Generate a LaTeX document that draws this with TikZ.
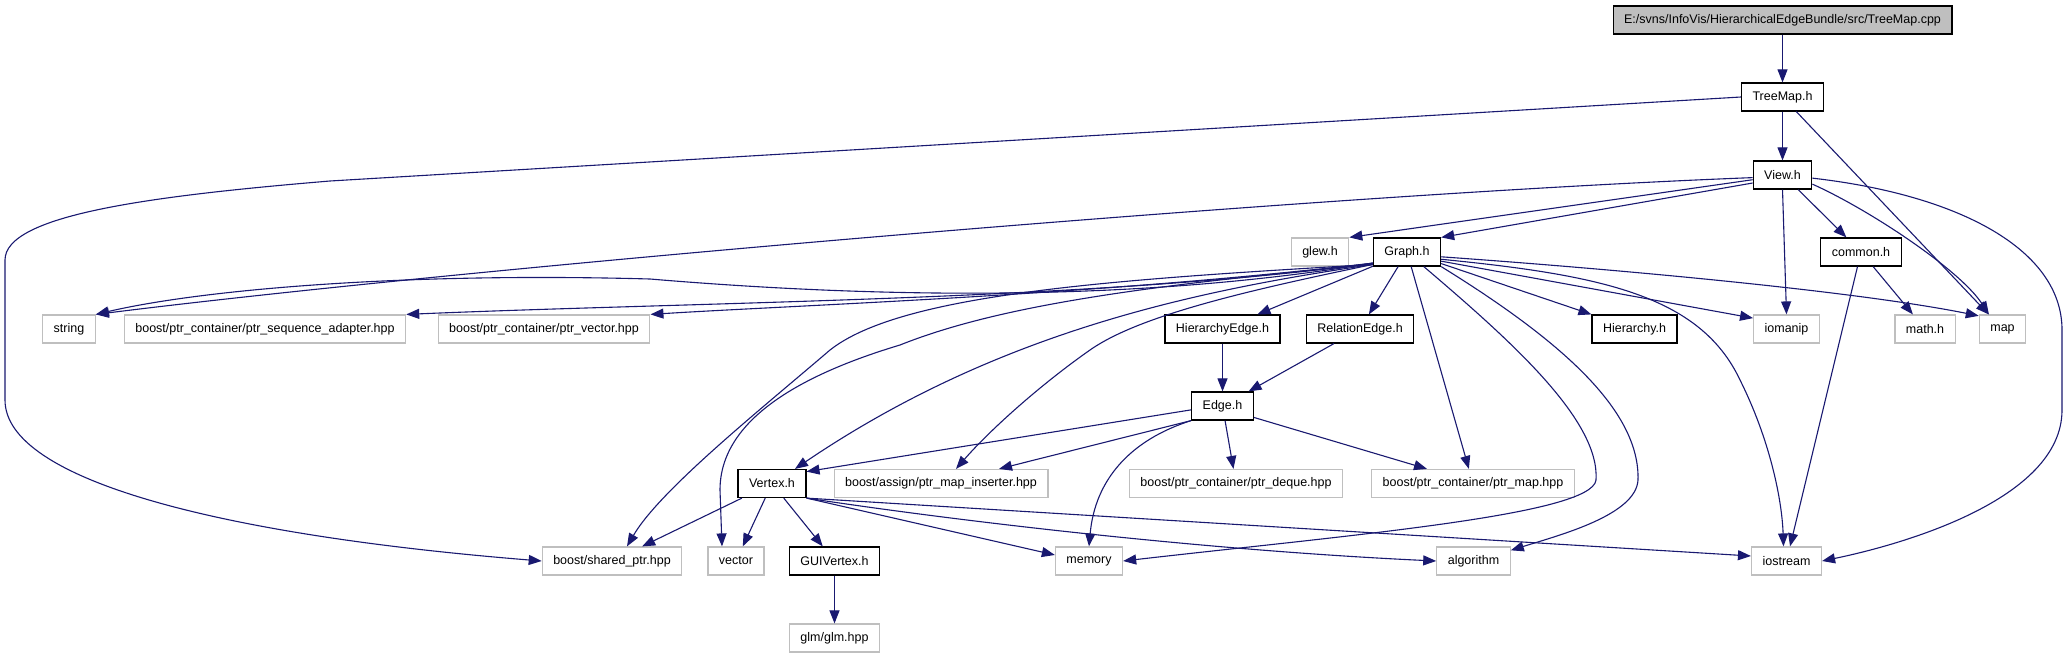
\documentclass[tikz,border=0pt]{standalone}
\usepackage{fontspec}
\setmainfont{Liberation Sans}
\usepackage{tikz}
\usetikzlibrary{arrows.meta}
\definecolor{midnight}{HTML}{191970}
\definecolor{lgray}{HTML}{BFBFBF}

\begin{document}
\begin{tikzpicture}[x=1pt,y=-1pt,>={Triangle[length=13pt,width=10pt]},
	hdr/.style = {draw=black,line width=1.2pt,fill=white,minimum height=28pt,inner xsep=11pt,inner ysep=0pt,font=\fontsize{12.5}{15}\selectfont},
	sys/.style = {hdr,draw=lgray},
	src/.style = {hdr,fill=lgray},
	inc/.style = {->,draw=midnight,line width=1.1pt}
	]
	\useasboundingbox (0,0) rectangle (2068,659);
	%FILE
	\node[src] (cpp) at (1782.5,20) {E:/svns/InfoVis/HierarchicalEdgeBundle/src/TreeMap.cpp};
	\node[hdr] (treemap) at (1782.5,97) {TreeMap.h};
	\node[hdr] (view) at (1782.5,175) {View.h};
	\node[sys] (glew) at (1320,252) {glew.h};
	\node[hdr] (graph) at (1407,252) {Graph.h};
	\node[hdr] (common) at (1861,252) {common.h};
	\node[sys] (string) at (69,329) {string};
	\node[sys] (ptrseq) at (265,329) {boost/ptr\_container/ptr\_sequence\_adapter.hpp};
	\node[sys] (ptrvec) at (544,329) {boost/ptr\_container/ptr\_vector.hpp};
	\node[hdr] (hedge) at (1222.5,329) {HierarchyEdge.h};
	\node[hdr] (redge) at (1360,329) {RelationEdge.h};
	\node[hdr] (hier) at (1634.5,329) {Hierarchy.h};
	\node[sys] (iomanip) at (1786.5,329) {iomanip};
	\node[sys] (mathh) at (1925,329) {math.h};
	\node[sys] (map) at (2002.5,329) {map};
	\node[hdr] (edge) at (1222.5,406) {Edge.h};
	\node[hdr] (vertex) at (772,483.5) {Vertex.h};
	\node[sys] (ptrins) at (941,483.5) {boost/assign/ptr\_map\_inserter.hpp};
	\node[sys] (ptrdeq) at (1236,483.5) {boost/ptr\_container/ptr\_deque.hpp};
	\node[sys] (ptrmap) at (1473,483.5) {boost/ptr\_container/ptr\_map.hpp};
	\node[sys] (shptr) at (612,561) {boost/shared\_ptr.hpp};
	\node[sys] (vector) at (736,561) {vector};
	\node[hdr] (guivtx) at (834.5,561) {GUIVertex.h};
	\node[sys] (memory) at (1089,561) {memory};
	\node[sys] (algo) at (1473.5,561) {algorithm};
	\node[sys] (iostream) at (1786.5,561) {iostream};
	\node[sys] (glm) at (834.5,638) {glm/glm.hpp};
	%TREEMAP
	\draw[inc] (cpp) -- (treemap);
	\draw[inc] (treemap) -- (view);
	\draw[inc] (treemap) -- (map);
	\draw[inc] (treemap.west) -- (330,181) .. controls (150,196) and (5,215) .. (5,260) -- (5,400) .. controls (5,480) and (220,535) .. (shptr.west);
	%VIEW
	\draw[inc] (view.185) .. controls (1300,195) and (450,270) .. (string.north east);
	\draw[inc] (view.189) -- (glew.north east);
	\draw[inc] (view.195) -- (graph.north east);
	\draw[inc] (view.-43) -- (common.135);
	\draw[inc] (view.south) -- (iomanip.north);
	\draw[inc] (view.-17) .. controls (1870,210) and (1960,270) .. (map.133);
	\draw[inc] (view.-6) .. controls (1960,195) and (2062,250) .. (2062,330) -- (2062,410) .. controls (2062,500) and (1900,545) .. (iostream.east);
	\draw[inc] (common) -- (mathh);
	\draw[inc] (common) -- (iostream);
	%GRAPH
	\draw[inc] (graph.198) .. controls (1150,300) and (900,300) .. (650,279) .. controls (400,272) and (200,290) .. (string.north east);
	\draw[inc] (graph.198) .. controls (1100,300) and (700,302) .. (ptrseq.north east);
	\draw[inc] (graph.198) .. controls (1100,295) and (800,305) .. (ptrvec.north east);
	\draw[inc] (graph) -- (hedge);
	\draw[inc] (graph) -- (redge);
	\draw[inc] (graph) -- (hier);
	\draw[inc] (graph.-15) -- (iomanip.162);
	\draw[inc] (graph.-8) .. controls (1600,268) and (1850,290) .. (map.151);
	\draw[inc] (graph.-12) .. controls (1600,275) and (1700,295) .. (1740,380) .. controls (1770,440) and (1782,500) .. ([xshift=-3pt]iostream.north);
	\draw[inc] (graph) -- (ptrmap);
	\draw[inc] (graph.-41) .. controls (1510,340) and (1600,420) .. (1596,480) .. controls (1592,515) and (1350,535) .. (memory.east);
	\draw[inc] (graph.south east) .. controls (1560,340) and (1640,410) .. (1638,480) .. controls (1636,515) and (1560,535) .. (algo.16);
	\draw[inc] (graph.200) .. controls (1250,290) and (1140,315) .. (1090,350) .. controls (1040,385) and (990,430) .. ([xshift=15pt]ptrins.north);
	\draw[inc] (graph.200) .. controls (1200,290) and (1000,330) .. ([xshift=23pt]vertex.north);
	\draw[inc] (graph.200) .. controls (1150,285) and (1000,305) .. (900,345) .. controls (800,375) and (720,420) .. (720,490) -- ([xshift=-14pt]vector.north);
	\draw[inc] (graph.200) .. controls (1100,280) and (900,295) .. (830,350) .. controls (760,410) and (660,490) .. ([xshift=15pt]shptr.north);
	%EDGE
	\draw[inc] (hedge) -- (edge);
	\draw[inc] (redge) -- (edge);
	\draw[inc] (edge.187) -- (vertex.19);
	\draw[inc] (edge.south west) -- ([xshift=58pt]ptrins.north);
	\draw[inc] (edge.south west) .. controls (1130,440) and (1095,480) .. (memory.north);
	\draw[inc] (edge) -- (ptrdeq);
	\draw[inc] (edge.-20) -- ([xshift=-46pt]ptrmap.north);
	%VERTEX
	\draw[inc] (vertex) -- (shptr);
	\draw[inc] (vertex) -- (vector);
	\draw[inc] (vertex) -- (guivtx);
	\draw[inc] (vertex.south east) -- (memory.170);
	\draw[inc] (vertex.south east) .. controls (950,520) and (1200,550) .. (algo.west);
	\draw[inc] (vertex.south east) -- (iostream.172);
	\draw[inc] (guivtx) -- (glm);
\end{tikzpicture}
\end{document}
